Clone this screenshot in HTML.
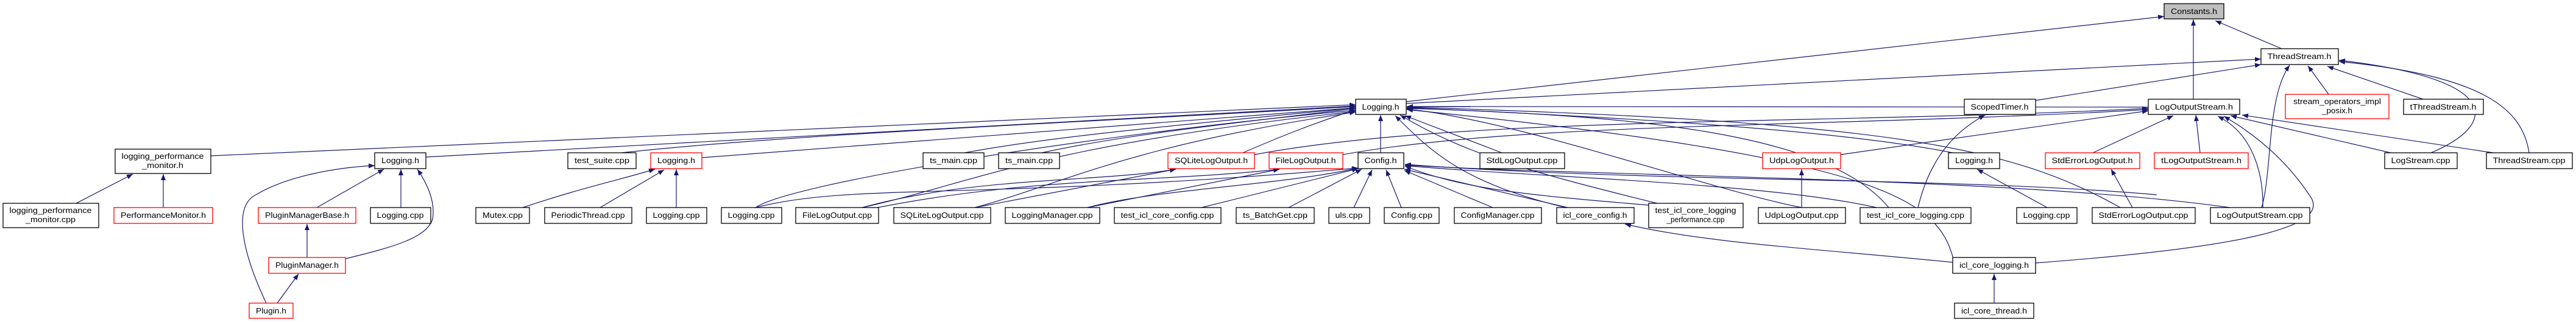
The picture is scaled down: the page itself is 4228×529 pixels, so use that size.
<!DOCTYPE html>
<html><head><meta charset="utf-8"><style>
html,body{margin:0;padding:0;background:#fff;}
svg{display:block;}
text{font-family:"Liberation Sans",sans-serif;font-size:13px;fill:#000;}
.b{fill:#fff;stroke:#000;stroke-width:1.3;}
.r{fill:#fff;stroke:#ff0000;stroke-width:1.3;}
.e{fill:none;stroke:#191970;stroke-width:1.2;}
</style></head><body>
<svg width="4228" height="529" viewBox="0 0 4228 529" xmlns="http://www.w3.org/2000/svg">
<defs><marker id="a" markerUnits="userSpaceOnUse" markerWidth="11" markerHeight="8" refX="10" refY="4" orient="auto"><path d="M0,0 L10,4 L0,8 z" fill="#191970"/></marker></defs>
<g class="e" marker-end="url(#a)">
<path d="M2308,167 L3552,27"/>
<path d="M3745,80 L3636,34"/>
<path d="M3600,163 L3600,32"/>
<path d="M2308,170 L3711,97"/>
<path d="M3341,165 L3711,106"/>
<path d="M3822,155 L3788,108"/>
<path d="M3977,163 L3820,109"/>
<path d="M3990,251 C4100,205 4110,130 3839,99"/>
<path d="M4151,251 C4140,180 4080,125 3839,101"/>
<path d="M3712,341 C3730,280 3720,160 3758,107"/>
<path d="M3611,251 L3604,189"/>
<path d="M3435,251 L3567,190"/>
<path d="M3924,251 L3661,190"/>
<path d="M4092,251 L3680,189"/>
<path d="M3714,341 C3715,290 3700,220 3640,191"/>
<path d="M3341,432 C3700,405 3830,370 3790,320 C3750,260 3700,220 3650,191"/>
<path d="M3021,254 L3526,182"/>
<path d="M2204,254 C2500,200 3000,210 3526,180"/>
<path d="M2059,254 C2400,190 3000,205 3526,178"/>
<path d="M3205,431 C3000,410 2800,400 2667,368"/>
<path d="M3273,498 L3273,450"/>
<path d="M3360,341 L3245,278"/>
<path d="M3500,341 L3465,278"/>
<path d="M2957,341 L2957,278"/>
<path d="M3148,341 C3165,270 3200,220 3258,189"/>
<path d="M2266,251 L2266,189"/>
<path d="M2115,341 L2235,278"/>
<path d="M2222,341 L2252,279"/>
<path d="M2300,341 L2275,279"/>
<path d="M2450,341 L2305,280"/>
<path d="M2573,341 L2305,278"/>
<path d="M1972,341 L2229,277"/>
<path d="M1785,341 C1900,310 2100,305 2229,276"/>
<path d="M2706,337 C2500,320 2400,310 2306,273"/>
<path d="M3080,341 C2900,300 2500,290 2306,272"/>
<path d="M3660,341 C3300,290 2600,290 2306,271"/>
<path d="M3540,320 C3200,290 2700,300 2306,270"/>
<path d="M346,256 L2225,172"/>
<path d="M699,258 L2225,174"/>
<path d="M1020,251 C1300,220 1800,200 2225,175"/>
<path d="M1152,259 L2225,177"/>
<path d="M1583,251 C1750,220 2000,200 2225,177"/>
<path d="M1710,251 C1850,220 2050,200 2225,178"/>
<path d="M2040,251 C2100,225 2150,205 2225,180"/>
<path d="M1240,341 C1300,300 1800,220 2225,181"/>
<path d="M1415,341 C1600,300 1700,240 2225,183"/>
<path d="M1600,341 C1750,300 1850,240 2225,184"/>
<path d="M2465,251 L2306,190"/>
<path d="M2570,341 C2400,300 2350,250 2290,190"/>
<path d="M2720,334 C2500,280 2400,250 2298,189"/>
<path d="M3205,251 C3000,210 2600,190 2309,177"/>
<path d="M3100,341 C3000,220 2700,190 2309,178"/>
<path d="M3480,341 C3300,240 3100,200 2309,176"/>
<path d="M3526,176 L2309,175"/>
<path d="M3206,425 C3180,330 3100,260 2309,180"/>
<path d="M2957,341 C2800,310 2500,200 2309,179"/>
<path d="M1415,341 C1600,290 1800,300 1930,278"/>
<path d="M1600,341 L1930,278"/>
<path d="M1785,341 L2100,278"/>
<path d="M1440,341 C1700,290 1900,300 2100,278"/>
<path d="M1240,341 C1400,300 1600,330 2229,276"/>
<path d="M520,341 L630,278"/>
<path d="M658,341 L658,278"/>
<path d="M567,425 C650,405 700,390 710,360 C715,330 700,300 685,278"/>
<path d="M437,498 C400,420 380,340 420,320 C470,290 550,275 615,272"/>
<path d="M504,423 L504,368"/>
<path d="M455,498 L490,450"/>
<path d="M125,334 L218,286"/>
<path d="M268,341 L268,286"/>
<path d="M858,341 C950,310 1000,300 1075,278"/>
<path d="M985,341 L1090,279"/>
<path d="M1110,341 L1110,278"/>
</g>
<rect x="3552" y="6" width="98" height="25" style="fill:#bfbfbf;stroke:#000;stroke-width:1.3"/><text x="3601" y="23" text-anchor="middle" textLength="76" lengthAdjust="spacingAndGlyphs">Constants.h</text>
<rect class="b" x="3711" y="80" width="127" height="26"/><text x="3774" y="97" text-anchor="middle" textLength="105" lengthAdjust="spacingAndGlyphs">ThreadStream.h</text>
<rect class="b" x="2225" y="163" width="83" height="25"/><text x="2266" y="180" text-anchor="middle" textLength="61" lengthAdjust="spacingAndGlyphs">Logging.h</text>
<rect class="b" x="3224" y="163" width="117" height="25"/><text x="3282" y="180" text-anchor="middle" textLength="95" lengthAdjust="spacingAndGlyphs">ScopedTimer.h</text>
<rect class="b" x="3526" y="163" width="150" height="25"/><text x="3601" y="180" text-anchor="middle" textLength="128" lengthAdjust="spacingAndGlyphs">LogOutputStream.h</text>
<rect class="r" x="3751" y="155" width="170" height="40"/><text x="3836" y="171" text-anchor="middle" textLength="144" lengthAdjust="spacingAndGlyphs">stream_operators_impl</text><text x="3836" y="186" text-anchor="middle" textLength="50" lengthAdjust="spacingAndGlyphs">_posix.h</text>
<rect class="b" x="3945" y="163" width="131" height="25"/><text x="4010" y="180" text-anchor="middle" textLength="109" lengthAdjust="spacingAndGlyphs">tThreadStream.h</text>
<rect class="b" x="189" y="245" width="157" height="40"/><text x="267" y="261" text-anchor="middle" textLength="135" lengthAdjust="spacingAndGlyphs">logging_performance</text><text x="267" y="276" text-anchor="middle" textLength="68" lengthAdjust="spacingAndGlyphs">_monitor.h</text>
<g>
<rect class="b" x="615" y="251" width="84" height="26"/><text x="657" y="268" text-anchor="middle" textLength="62" lengthAdjust="spacingAndGlyphs">Logging.h</text>
<rect class="b" x="932" y="251" width="112" height="26"/><text x="988" y="268" text-anchor="middle" textLength="90" lengthAdjust="spacingAndGlyphs">test_suite.cpp</text>
<rect class="r" x="1068" y="251" width="84" height="26"/><text x="1110" y="268" text-anchor="middle" textLength="62" lengthAdjust="spacingAndGlyphs">Logging.h</text>
<rect class="b" x="1515" y="251" width="100" height="26"/><text x="1565" y="268" text-anchor="middle" textLength="78" lengthAdjust="spacingAndGlyphs">ts_main.cpp</text>
<rect class="b" x="1639" y="251" width="100" height="26"/><text x="1689" y="268" text-anchor="middle" textLength="78" lengthAdjust="spacingAndGlyphs">ts_main.cpp</text>
<rect class="r" x="1917" y="251" width="142" height="26"/><text x="1988" y="268" text-anchor="middle" textLength="120" lengthAdjust="spacingAndGlyphs">SQLiteLogOutput.h</text>
<rect class="r" x="2083" y="251" width="121" height="26"/><text x="2143" y="268" text-anchor="middle" textLength="99" lengthAdjust="spacingAndGlyphs">FileLogOutput.h</text>
<rect class="b" x="2229" y="251" width="75" height="26"/><text x="2266" y="268" text-anchor="middle" textLength="53" lengthAdjust="spacingAndGlyphs">Config.h</text>
<rect class="b" x="2429" y="251" width="139" height="26"/><text x="2498" y="268" text-anchor="middle" textLength="117" lengthAdjust="spacingAndGlyphs">StdLogOutput.cpp</text>
<rect class="r" x="2893" y="251" width="128" height="26"/><text x="2957" y="268" text-anchor="middle" textLength="106" lengthAdjust="spacingAndGlyphs">UdpLogOutput.h</text>
<rect class="b" x="3198" y="251" width="84" height="26"/><text x="3240" y="268" text-anchor="middle" textLength="62" lengthAdjust="spacingAndGlyphs">Logging.h</text>
<rect class="r" x="3357" y="251" width="155" height="26"/><text x="3434" y="268" text-anchor="middle" textLength="133" lengthAdjust="spacingAndGlyphs">StdErrorLogOutput.h</text>
<rect class="r" x="3536" y="251" width="154" height="26"/><text x="3613" y="268" text-anchor="middle" textLength="132" lengthAdjust="spacingAndGlyphs">tLogOutputStream.h</text>
<rect class="b" x="3914" y="251" width="119" height="26"/><text x="3973" y="268" text-anchor="middle" textLength="97" lengthAdjust="spacingAndGlyphs">LogStream.cpp</text>
<rect class="b" x="4081" y="251" width="141" height="26"/><text x="4151" y="268" text-anchor="middle" textLength="119" lengthAdjust="spacingAndGlyphs">ThreadStream.cpp</text>
</g>
<rect class="b" x="5" y="334" width="157" height="40"/><text x="83" y="350" text-anchor="middle" textLength="135" lengthAdjust="spacingAndGlyphs">logging_performance</text><text x="83" y="365" text-anchor="middle" textLength="82" lengthAdjust="spacingAndGlyphs">_monitor.cpp</text>
<g>
<rect class="r" x="187" y="341" width="162" height="26"/><text x="268" y="358" text-anchor="middle" textLength="140" lengthAdjust="spacingAndGlyphs">PerformanceMonitor.h</text>
<rect class="r" x="424" y="341" width="160" height="26"/><text x="504" y="358" text-anchor="middle" textLength="138" lengthAdjust="spacingAndGlyphs">PluginManagerBase.h</text>
<rect class="b" x="608" y="341" width="99" height="26"/><text x="657" y="358" text-anchor="middle" textLength="77" lengthAdjust="spacingAndGlyphs">Logging.cpp</text>
<rect class="b" x="781" y="341" width="88" height="26"/><text x="825" y="358" text-anchor="middle" textLength="66" lengthAdjust="spacingAndGlyphs">Mutex.cpp</text>
<rect class="b" x="894" y="341" width="143" height="26"/><text x="965" y="358" text-anchor="middle" textLength="121" lengthAdjust="spacingAndGlyphs">PeriodicThread.cpp</text>
<rect class="b" x="1061" y="341" width="99" height="26"/><text x="1110" y="358" text-anchor="middle" textLength="77" lengthAdjust="spacingAndGlyphs">Logging.cpp</text>
<rect class="b" x="1184" y="341" width="99" height="26"/><text x="1233" y="358" text-anchor="middle" textLength="77" lengthAdjust="spacingAndGlyphs">Logging.cpp</text>
<rect class="b" x="1306" y="341" width="136" height="26"/><text x="1374" y="358" text-anchor="middle" textLength="114" lengthAdjust="spacingAndGlyphs">FileLogOutput.cpp</text>
<rect class="b" x="1467" y="341" width="159" height="26"/><text x="1546" y="358" text-anchor="middle" textLength="137" lengthAdjust="spacingAndGlyphs">SQLiteLogOutput.cpp</text>
<rect class="b" x="1650" y="341" width="155" height="26"/><text x="1727" y="358" text-anchor="middle" textLength="133" lengthAdjust="spacingAndGlyphs">LoggingManager.cpp</text>
<rect class="b" x="1829" y="341" width="175" height="26"/><text x="1916" y="358" text-anchor="middle" textLength="153" lengthAdjust="spacingAndGlyphs">test_icl_core_config.cpp</text>
<rect class="b" x="2029" y="341" width="128" height="26"/><text x="2093" y="358" text-anchor="middle" textLength="106" lengthAdjust="spacingAndGlyphs">ts_BatchGet.cpp</text>
<rect class="b" x="2181" y="341" width="67" height="26"/><text x="2214" y="358" text-anchor="middle" textLength="45" lengthAdjust="spacingAndGlyphs">uls.cpp</text>
<rect class="b" x="2272" y="341" width="90" height="26"/><text x="2317" y="358" text-anchor="middle" textLength="68" lengthAdjust="spacingAndGlyphs">Config.cpp</text>
<rect class="b" x="2387" y="341" width="143" height="26"/><text x="2458" y="358" text-anchor="middle" textLength="121" lengthAdjust="spacingAndGlyphs">ConfigManager.cpp</text>
<rect class="b" x="2555" y="341" width="127" height="26"/><text x="2618" y="358" text-anchor="middle" textLength="105" lengthAdjust="spacingAndGlyphs">icl_core_config.h</text>
<rect class="b" x="2706" y="334" width="155" height="40"/><text x="2783" y="350" text-anchor="middle" textLength="133" lengthAdjust="spacingAndGlyphs">test_icl_core_logging</text><text x="2783" y="365" text-anchor="middle" textLength="95" lengthAdjust="spacingAndGlyphs">_performance.cpp</text>
<rect class="b" x="2886" y="341" width="143" height="26"/><text x="2957" y="358" text-anchor="middle" textLength="121" lengthAdjust="spacingAndGlyphs">UdpLogOutput.cpp</text>
<rect class="b" x="3053" y="341" width="182" height="26"/><text x="3144" y="358" text-anchor="middle" textLength="160" lengthAdjust="spacingAndGlyphs">test_icl_core_logging.cpp</text>
<rect class="b" x="3310" y="341" width="99" height="26"/><text x="3359" y="358" text-anchor="middle" textLength="77" lengthAdjust="spacingAndGlyphs">Logging.cpp</text>
<rect class="b" x="3434" y="341" width="169" height="26"/><text x="3518" y="358" text-anchor="middle" textLength="147" lengthAdjust="spacingAndGlyphs">StdErrorLogOutput.cpp</text>
<rect class="b" x="3628" y="341" width="163" height="26"/><text x="3709" y="358" text-anchor="middle" textLength="141" lengthAdjust="spacingAndGlyphs">LogOutputStream.cpp</text>
</g>
<rect class="r" x="441" y="423" width="126" height="26"/><text x="504" y="440" text-anchor="middle" textLength="104" lengthAdjust="spacingAndGlyphs">PluginManager.h</text>
<rect class="b" x="3205" y="423" width="136" height="26"/><text x="3273" y="440" text-anchor="middle" textLength="114" lengthAdjust="spacingAndGlyphs">icl_core_logging.h</text>
<rect class="r" x="409" y="498" width="72" height="25"/><text x="445" y="515" text-anchor="middle" textLength="50" lengthAdjust="spacingAndGlyphs">Plugin.h</text>
<rect class="b" x="3208" y="498" width="130" height="25"/><text x="3273" y="515" text-anchor="middle" textLength="108" lengthAdjust="spacingAndGlyphs">icl_core_thread.h</text>
</svg>
</body></html>
